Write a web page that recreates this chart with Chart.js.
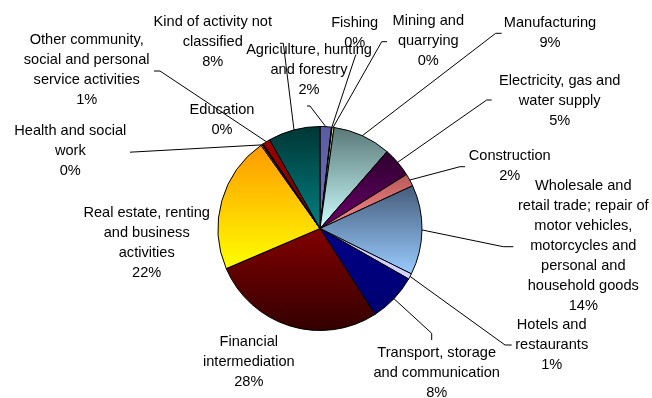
<!DOCTYPE html>
<html>
<head>
<meta charset="utf-8">
<script src="https://cdn.jsdelivr.net/npm/chart.js@4/dist/chart.umd.min.js"></script>
<style>
  html, body { margin: 0; padding: 0; background: #fff; }
  #wrap { width: 652px; height: 398px; }
</style>
</head>
<body>
<div id="wrap"><canvas id="c" width="652" height="398"></canvas></div>
<script>
// Economic activities, share of total (%), clockwise from 12 o'clock
const categories = [
  'Agriculture, hunting and forestry',
  'Fishing',
  'Mining and quarrying',
  'Manufacturing',
  'Electricity, gas and water supply',
  'Construction',
  'Wholesale and retail trade; repair of motor vehicles, motorcycles and personal and household goods',
  'Hotels and restaurants',
  'Transport, storage and communication',
  'Financial intermediation',
  'Real estate, renting and business activities',
  'Health and social work',
  'Education',
  'Other community, social and personal service activities',
  'Kind of activity not classified'
];
const shares = [1.8, 0.1, 0.3, 9.2, 4.7, 2.0, 14.2, 0.9, 7.7, 27.6, 21.6, 0.2, 0.2, 1.2, 8.2];

// Wrapped label text for each slice
const labelLines = [
  ['Agriculture, hunting', 'and forestry'],
  ['Fishing'],
  ['Mining and', 'quarrying'],
  ['Manufacturing'],
  ['Electricity, gas and', 'water supply'],
  ['Construction'],
  ['Wholesale and', 'retail trade; repair of', 'motor vehicles,', 'motorcycles and', 'personal and', 'household goods'],
  ['Hotels and', 'restaurants'],
  ['Transport, storage', 'and communication'],
  ['Financial', 'intermediation'],
  ['Real estate, renting', 'and business', 'activities'],
  ['Health and social', 'work'],
  ['Education'],
  ['Other community,', 'social and personal', 'service activities'],
  ['Kind of activity not', 'classified']
];

// Two-stop vertical shading per slice: [top, bottom]
const shades = [
  ['#5a5aa0', '#7474be'],
  ['#1a1a80', '#3a3aa0'],
  ['#ffff99', '#ffffcc'],
  ['#5a7878', '#ccffff'],
  ['#2e002e', '#680068'],
  ['#b85a5a', '#ff8a8a'],
  ['#465c7a', '#99ccff'],
  ['#c8c8ff', '#d4d4ff'],
  ['#000088', '#000070'],
  ['#820000', '#330000'],
  ['#ff9900', '#ffff00'],
  ['#ff9900', '#ffcc00'],
  ['#880000', '#880000'],
  ['#990000', '#7a0000'],
  ['#003636', '#008080']
];

// Label placement relative to the pie centre: text centre / first line, and leader path
const labelPlacement = [
  { at: [-11, -178.5], leader: [[-10, -122.5], [-13, -122.5]] },
  { at: [34.7, -205.2], leader: [[35, -171.5], [36, -174]] },
  { at: [108.3, -207.8], leader: [[61.7, -186.8], [67, -186.8]] },
  { at: [230, -205.2], leader: [[175.7, -195.2], [181.7, -195.2]] },
  { at: [239.7, -147.5], leader: [[166.7, -128.5], [171.7, -128.5]] },
  { at: [189.7, -72.5], leader: [[140, -61.8], [145, -61.8]] },
  { at: [263.3, -42.8], leader: [[183.3, 18.2], [193.3, 18.2]] },
  { at: [231.7, 96.5], leader: [[185, 116.5], [191.7, 116.5]] },
  { at: [116.7, 124.8], leader: [[111.7, 104.8], [111.7, 111.5]] },
  { at: [-71.2, 113.2], leader: null },
  { at: [-173.3, -15.8], leader: null },
  { at: [-249.7, -97.5], leader: [[-190, -76.3]] },
  { at: [-98, -118.5], leader: null },
  { at: [-233.3, -188.5], leader: [[-160, -157.5], [-166, -157.5]] },
  { at: [-107.2, -206.2], leader: [[-36.7, -185.2], [-40, -185.2]] }
];

const total = shares.reduce((a, b) => a + b, 0);
const pctText = shares.map(v => Math.round(v / total * 100) + '%');

// Fill every slice with its own top-to-bottom gradient over the slice's vertical extent
const sliceShading = {
  id: 'sliceShading',
  beforeDatasetsDraw(chart) {
    const ctx = chart.ctx;
    chart.getDatasetMeta(0).data.forEach((arc, i) => {
      const p = arc.getProps(['x', 'y', 'startAngle', 'endAngle', 'outerRadius']);
      const contains = a => {
        let t = a;
        while (t < p.startAngle) t += 2 * Math.PI;
        return t <= p.endAngle + 1e-9;
      };
      const ys = [p.y, p.y + p.outerRadius * Math.sin(p.startAngle), p.y + p.outerRadius * Math.sin(p.endAngle)];
      if (contains(-Math.PI / 2)) ys.push(p.y - p.outerRadius);
      if (contains(Math.PI / 2)) ys.push(p.y + p.outerRadius);
      const top = Math.min(...ys), bottom = Math.max(...ys);
      const g = ctx.createLinearGradient(0, top, 0, bottom + 0.5);
      g.addColorStop(0, shades[i][0]);
      g.addColorStop(1, shades[i][1]);
      arc.options.backgroundColor = g;
    });
  }
};

// Category labels with percentages and leader lines
const outerLabels = {
  id: 'outerLabels',
  afterDatasetsDraw(chart) {
    const ctx = chart.ctx;
    const arcs = chart.getDatasetMeta(0).data;
    ctx.save();
    ctx.strokeStyle = '#000';
    ctx.lineWidth = 1;
    arcs.forEach((arc, i) => {
      const place = labelPlacement[i];
      if (!place.leader) return;
      const p = arc.getProps(['x', 'y', 'startAngle', 'endAngle', 'outerRadius']);
      const mid = (p.startAngle + p.endAngle) / 2;
      ctx.beginPath();
      ctx.moveTo(p.x + p.outerRadius * Math.cos(mid), p.y + p.outerRadius * Math.sin(mid));
      place.leader.forEach(pt => ctx.lineTo(p.x + pt[0], p.y + pt[1]));
      ctx.stroke();
    });
    ctx.fillStyle = '#000';
    ctx.font = '14.6px "Liberation Sans", Arial, sans-serif';
    ctx.textAlign = 'center';
    ctx.textBaseline = 'middle';
    const lineGap = 20;
    arcs.forEach((arc, i) => {
      const p = arc.getProps(['x', 'y']);
      const place = labelPlacement[i];
      const lines = labelLines[i].concat([pctText[i]]);
      lines.forEach((t, k) => {
        ctx.fillText(t, p.x + place.at[0], p.y + place.at[1] + k * lineGap);
      });
    });
    ctx.restore();
  }
};

new Chart(document.getElementById('c'), {
  type: 'pie',
  data: {
    labels: categories,
    datasets: [{
      data: shares,
      backgroundColor: shades.map(s => s[0]),
      borderColor: '#000',
      borderWidth: 1,
      radius: 102
    }]
  },
  options: {
    responsive: false,
    animation: false,
    events: [],
    layout: { padding: { left: 218, right: 230, top: 126.5, bottom: 67.5 } },
    plugins: {
      legend: { display: false },
      tooltip: { enabled: false }
    }
  },
  plugins: [sliceShading, outerLabels]
});
</script>
</body>
</html>
